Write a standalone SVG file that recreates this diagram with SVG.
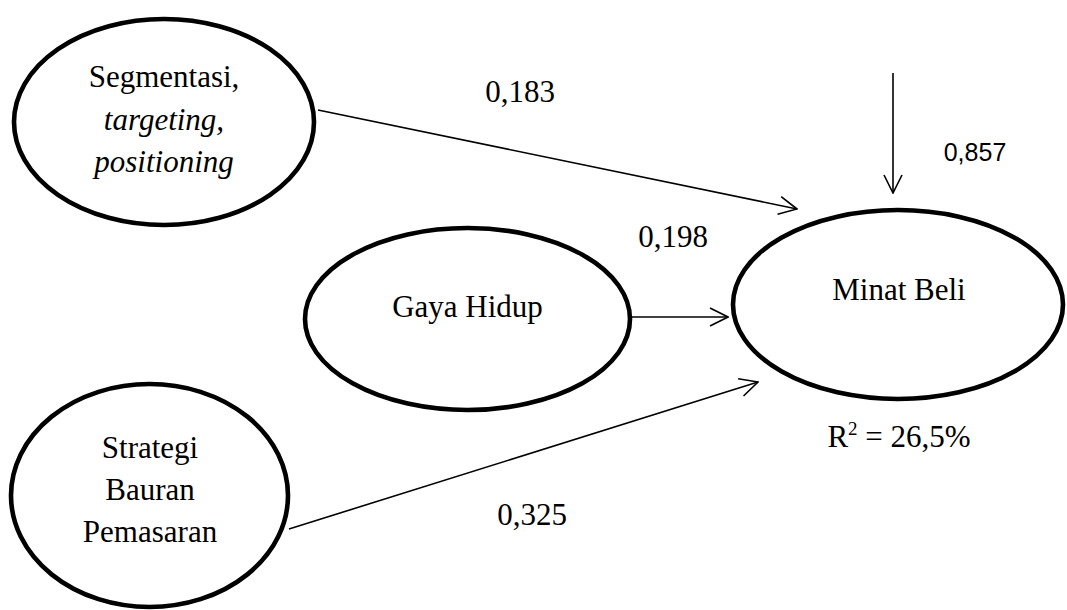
<svg xmlns="http://www.w3.org/2000/svg" width="1067" height="610" viewBox="0 0 1067 610">
  <style>
    .node ellipse { fill: #ffffff; stroke: #000000; stroke-width: 4.6; }
    .lbl { font-family: "Liberation Serif", "Times New Roman", serif; font-size: 31px; fill: #000000; text-anchor: middle; }
    .coef { font-family: "Liberation Serif", "Times New Roman", serif; font-size: 31px; fill: #000000; text-anchor: middle; }
    .err { font-family: "Liberation Sans", Arial, sans-serif; font-size: 25px; fill: #000000; text-anchor: middle; }
    .edge { stroke: #000000; stroke-width: 1.6; fill: none; marker-end: url(#openArrow); }
  </style>
  <defs>
    <marker id="openArrow" viewBox="0 0 20 22" refX="19" refY="11" markerWidth="20" markerHeight="22" markerUnits="userSpaceOnUse" orient="auto">
      <path d="M1,2 L19,11 L1,20" fill="none" stroke="#000000" stroke-width="1.6"/>
    </marker>
  </defs>
  <rect width="1067" height="610" fill="#ffffff"/>

  <!-- path connectors -->
  <g id="connectors">
    <line class="edge" x1="318" y1="110" x2="797" y2="209"/>
    <line class="edge" x1="632" y1="317" x2="728" y2="317"/>
    <line class="edge" x1="289" y1="529" x2="758" y2="382"/>
    <line class="edge" x1="893" y1="73" x2="893" y2="193"/>
  </g>

  <g id="node-stp" class="node">
    <ellipse cx="164" cy="122" rx="150" ry="103"/>
    <text class="lbl" x="164" y="87">Segmentasi,</text>
    <text class="lbl" x="164" y="130" font-style="italic">targeting,</text>
    <text class="lbl" x="164" y="172" font-style="italic">positioning</text>
  </g>

  <g id="node-gaya" class="node">
    <ellipse cx="467.5" cy="319" rx="162.5" ry="91"/>
    <text class="lbl" x="467.5" y="317">Gaya Hidup</text>
  </g>

  <g id="node-minat" class="node">
    <ellipse cx="898" cy="304.5" rx="165" ry="94.5"/>
    <text class="lbl" x="899" y="300">Minat Beli</text>
  </g>

  <g id="node-strategi" class="node">
    <ellipse cx="149.5" cy="495.5" rx="138.5" ry="111.5"/>
    <text class="lbl" x="150" y="458">Strategi</text>
    <text class="lbl" x="150" y="500">Bauran</text>
    <text class="lbl" x="150" y="542">Pemasaran</text>
  </g>

  <!-- path coefficients -->
  <g id="labels">
    <text class="coef" x="520" y="102">0,183</text>
    <text class="coef" x="673" y="247">0,198</text>
    <text class="coef" x="532" y="525">0,325</text>
    <text class="err" x="975" y="161">0,857</text>
    <text class="coef" x="899" y="447">R<tspan font-size="19" dy="-12">2</tspan><tspan dy="12"> = 26,5%</tspan></text>
  </g>
</svg>
